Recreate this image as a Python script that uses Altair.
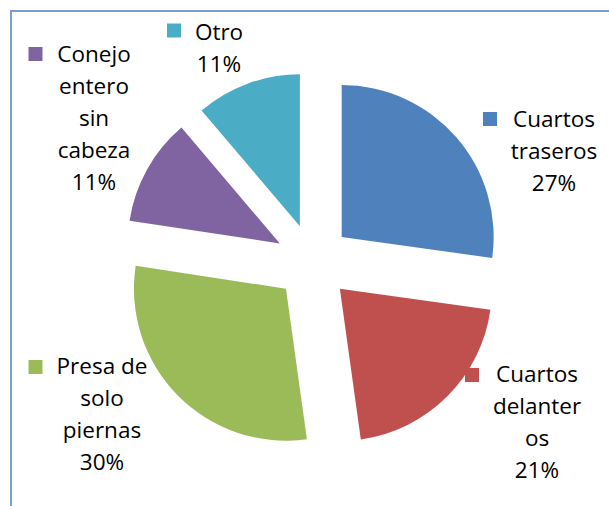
import math
import altair as alt
import pandas as pd

# ---- data ----
categories = ["Cuartos traseros", "Cuartos delanteros", "Presa de solo piernas",
              "Conejo entero sin cabeza", "Otro"]
values = [27.2, 20.6, 29.6, 11.4, 11.2]
colors = ["#4F81BD", "#C0504D", "#9BBB59", "#8064A2", "#4BACC6"]

# ---- layout (label wrapping / placement, as drawn by the original) ----
wrapped = [["Cuartos", "traseros"], ["Cuartos", "delanter", "os"],
           ["Presa de", "solo", "piernas"], ["Conejo", "entero", "sin", "cabeza"], ["Otro"]]
label_cx = [554, 537, 102, 94, 219]
label_y0 = [120, 375, 367, 55, 33]
key_xy = [(490, 119), (472, 375), (35.5, 367), (35.5, 54), (174, 30.5)]
LINE_H = 32
CX, CY, EXPLODE, R = 313, 262, 38, 152
FONT = "Open Sans"

total = sum(values)
df = pd.DataFrame({"cat": categories, "value": values, "order": range(len(values))})

color = alt.Color("cat:N", scale=alt.Scale(domain=categories, range=colors), legend=None)

arcs = alt.Chart(df).transform_joinaggregate(
    total="sum(value)"
).transform_window(
    cum="sum(value)", sort=[alt.SortField("order")]
).transform_calculate(
    f0="(datum.cum - datum.value) / datum.total",
    f1="datum.cum / datum.total",
).transform_calculate(
    mid="(datum.f0 + datum.f1) * PI",
).transform_calculate(
    cx=f"{CX} + {EXPLODE} * sin(datum.mid)",
    cy=f"{CY} - {EXPLODE} * cos(datum.mid)",
).mark_arc(radius=R, stroke=None).encode(
    theta=alt.Theta("f0:Q", scale=alt.Scale(domain=[0, 1], range=[0, 2 * math.pi]), stack=None),
    theta2="f1:Q",
    x=alt.X("cx:Q", scale=None, axis=None),
    y=alt.Y("cy:Q", scale=None, axis=None),
    color=color,
)

rows = []
for i, cat in enumerate(categories):
    lines = wrapped[i] + [f"{round(values[i] / total * 100)}%"]
    for k, t in enumerate(lines):
        rows.append({"cat": cat, "t": t, "px": label_cx[i], "py": label_y0[i] + k * LINE_H})
lab_df = pd.DataFrame(rows)

labels = alt.Chart(lab_df).mark_text(
    font=FONT, fontSize=22.5, color="#000000", align="center", baseline="middle"
).encode(
    x=alt.X("px:Q", scale=None, axis=None),
    y=alt.Y("py:Q", scale=None, axis=None),
    text="t:N",
)

key_df = pd.DataFrame({"cat": categories, "px": [p[0] for p in key_xy], "py": [p[1] for p in key_xy]})
keys = alt.Chart(key_df).mark_square(size=196, opacity=1, filled=True).encode(
    x=alt.X("px:Q", scale=None, axis=None),
    y=alt.Y("py:Q", scale=None, axis=None),
    color=color,
)

frame = alt.Chart(pd.DataFrame({"a": [0]})).mark_rect(
    filled=False, stroke="#79A0D4", strokeWidth=2
).encode(
    x=alt.value(11), x2=alt.value(660), y=alt.value(11), y2=alt.value(560)
)

chart = alt.layer(frame, arcs, keys, labels).properties(
    width=609, height=506, padding=0, autosize="none"
).configure_view(stroke=None)

chart.save("out.html", embed_options={"renderer": "svg", "actions": False})
